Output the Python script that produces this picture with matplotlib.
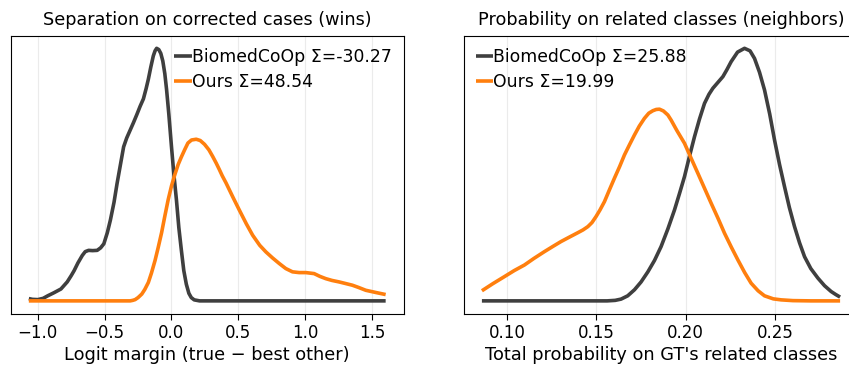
import matplotlib
matplotlib.use("Agg")
import matplotlib.pyplot as plt

# ---- data ----
# Left panel: logit margin density
left_base_x = [-1.067, -1.04, -1.0, -0.96, -0.926, -0.88, -0.827, -0.78, -0.75, -0.728,
               -0.70, -0.667, -0.645, -0.62, -0.59, -0.556, -0.53, -0.506, -0.48, -0.457,
               -0.43, -0.407, -0.38, -0.358, -0.335, -0.31, -0.285, -0.259, -0.235, -0.21,
               -0.19, -0.173, -0.155, -0.136, -0.123, -0.111, -0.095, -0.08, -0.065, -0.05,
               -0.037, -0.02, 0.0, 0.018, 0.037, 0.055, 0.074, 0.092, 0.111, 0.13,
               0.148, 0.17, 0.21, 0.6, 1.0, 1.602]
left_base_y = [0.009, 0.006, 0.005, 0.01, 0.02, 0.032, 0.047, 0.075, 0.10, 0.12,
               0.15, 0.18, 0.195, 0.20, 0.199, 0.20, 0.21, 0.226, 0.27, 0.32,
               0.39, 0.465, 0.545, 0.61, 0.645, 0.675, 0.705, 0.738, 0.77, 0.80,
               0.84, 0.878, 0.925, 0.97, 0.99, 1.0, 0.995, 0.98, 0.95, 0.90,
               0.838, 0.74, 0.61, 0.50, 0.40, 0.29, 0.20, 0.12, 0.066, 0.03,
               0.013, 0.004, 0.0, 0.0, 0.0, 0.0]

left_ours_x = [-1.067, -0.7, -0.309, -0.29, -0.272, -0.25, -0.222, -0.2, -0.173, -0.15,
               -0.123, -0.1, -0.074, -0.05, -0.025, 0.0, 0.025, 0.05, 0.074, 0.1,
               0.123, 0.15, 0.185, 0.215, 0.247, 0.28, 0.308, 0.335, 0.358, 0.38,
               0.408, 0.46, 0.507, 0.56, 0.607, 0.66, 0.706, 0.756, 0.806, 0.855,
               0.905, 0.955, 1.005, 1.067, 1.11, 1.154, 1.2, 1.254, 1.3, 1.353,
               1.4, 1.453, 1.53, 1.602]
left_ours_y = [0.0, 0.0, 0.0, 0.002, 0.005, 0.013, 0.027, 0.045, 0.073, 0.11,
               0.16, 0.21, 0.27, 0.335, 0.40, 0.455, 0.50, 0.54, 0.57, 0.60,
               0.625, 0.637, 0.64, 0.635, 0.62, 0.598, 0.572, 0.545, 0.52, 0.495,
               0.467, 0.41, 0.36, 0.305, 0.26, 0.22, 0.194, 0.17, 0.148, 0.128,
               0.115, 0.112, 0.112, 0.108, 0.097, 0.088, 0.081, 0.075, 0.069, 0.062,
               0.053, 0.042, 0.033, 0.025]

# Right panel: total probability on related classes
right_base_x = [0.0859, 0.12, 0.156, 0.1605, 0.1638, 0.1675, 0.1713, 0.175, 0.1788, 0.1825,
                0.1862, 0.19, 0.1937, 0.1965, 0.1993, 0.202, 0.2049, 0.2077, 0.2105, 0.213,
                0.2152, 0.218, 0.2208, 0.223, 0.2254, 0.229, 0.2329, 0.236, 0.2385, 0.2413,
                0.2441, 0.247, 0.2497, 0.2525, 0.2553, 0.258, 0.2609, 0.2637, 0.2665, 0.27,
                0.274, 0.2777, 0.2814, 0.284, 0.2864]
right_base_y = [0.0, 0.0, 0.0, 0.002, 0.007, 0.02, 0.044, 0.075, 0.115, 0.16,
                0.215, 0.285, 0.36, 0.425, 0.492, 0.57, 0.65, 0.72, 0.782, 0.818,
                0.842, 0.865, 0.888, 0.915, 0.947, 0.985, 1.0, 0.99, 0.96, 0.905,
                0.835, 0.74, 0.637, 0.54, 0.452, 0.37, 0.294, 0.23, 0.175, 0.128,
                0.09, 0.06, 0.037, 0.025, 0.015]

right_ours_x = [0.0859, 0.092, 0.0985, 0.104, 0.1097, 0.115, 0.1209, 0.1255, 0.1302, 0.135,
                0.1396, 0.1425, 0.1452, 0.1475, 0.1498, 0.152, 0.1545, 0.1573, 0.1601, 0.163,
                0.1657, 0.1685, 0.1713, 0.174, 0.1769, 0.1793, 0.1816, 0.1835, 0.1853, 0.1875,
                0.19, 0.1918, 0.195, 0.1993, 0.203, 0.2068, 0.2105, 0.2142, 0.218, 0.2217,
                0.2255, 0.2292, 0.233, 0.2366, 0.2405, 0.2441, 0.249, 0.2534, 0.26, 0.27,
                0.2864]
right_ours_y = [0.040, 0.068, 0.096, 0.12, 0.142, 0.168, 0.195, 0.215, 0.235, 0.253,
                0.27, 0.281, 0.294, 0.31, 0.334, 0.36, 0.393, 0.44, 0.486, 0.532,
                0.578, 0.618, 0.657, 0.692, 0.723, 0.743, 0.753, 0.758, 0.759, 0.752,
                0.736, 0.716, 0.675, 0.624, 0.565, 0.505, 0.446, 0.387, 0.328, 0.268,
                0.213, 0.162, 0.112, 0.07, 0.04, 0.02, 0.008, 0.004, 0.001, 0.0,
                0.0]

titles = ["Separation on corrected cases (wins)",
          "Probability on related classes (neighbors)"]
xlabels = ["Logit margin (true \u2212 best other)",
           "Total probability on GT's related classes"]
legend_left = ["BiomedCoOp \u03a3=-30.27", "Ours \u03a3=48.54"]
legend_right = ["BiomedCoOp \u03a3=25.88", "Ours \u03a3=19.99"]
left_ticks = [-1.0, -0.5, 0.0, 0.5, 1.0, 1.5]
right_ticks = [0.10, 0.15, 0.20, 0.25]

DARK = "#3f3f3f"
ORANGE = "#ff7f0e"

fig = plt.figure(figsize=(8.49, 3.69), dpi=100)
ax1 = fig.add_axes([11 / 849, (369 - 313.5) / 369, 392.5 / 849, 277.8 / 369])
ax2 = fig.add_axes([464 / 849, (369 - 313.5) / 369, 394 / 849, 277.8 / 369])

panels = [
    (ax1, left_base_x, left_base_y, left_ours_x, left_ours_y, legend_left, left_ticks, "upper right"),
    (ax2, right_base_x, right_base_y, right_ours_x, right_ours_y, legend_right, right_ticks, "upper left"),
]
for i, (ax, bx, by, ox, oy, leg, ticks, loc) in enumerate(panels):
    ax.plot(bx, by, color=DARK, lw=2.6, label=leg[0], solid_capstyle="butt")
    ax.plot(ox, oy, color=ORANGE, lw=2.6, label=leg[1], solid_capstyle="butt")
    ax.set_xticks(ticks)
    ax.set_yticks([])
    ax.grid(axis="x", color="#ebebeb", lw=0.8)
    ax.set_axisbelow(True)
    ax.tick_params(axis="x", labelsize=12, length=4)
    ax.set_title(titles[i], fontsize=12.7, pad=8)
    ax.set_xlabel(xlabels[i], fontsize=12.8, labelpad=3)
    ax.legend(loc=loc, frameon=False, fontsize=12.4, handlelength=1.0,
              handletextpad=0.0, borderaxespad=0.3, labelspacing=0.4)

fig.savefig("out.png", dpi=100)
